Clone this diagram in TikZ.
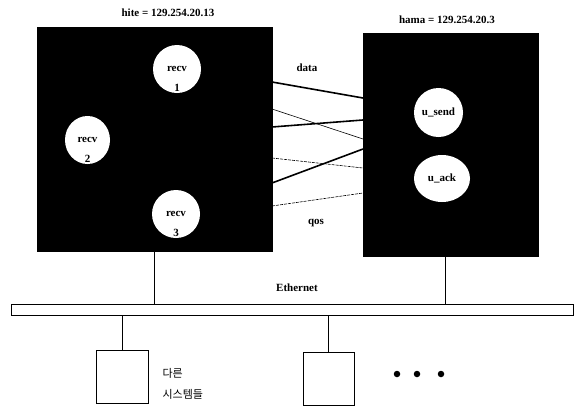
\documentclass[tikz,border=0pt]{standalone}
\usepackage{fontspec}
\setmainfont{Liberation Serif}
\newfontfamily\korfont{Noto Sans CJK KR}
\usetikzlibrary{shapes.geometric,positioning}

\tikzset{
	hostbox/.style={draw=black, fill=black, inner sep=0pt, outer sep=0pt},
	proc/.style={ellipse, fill=white, inner sep=0pt, outer sep=0pt},
	digit/.style={inner sep=0pt, text=black},
	thickline/.style={line width=1.6pt},
	thinline/.style={line width=0.6pt},
	dashline/.style={line width=0.6pt, dash pattern=on 3pt off 1pt},
	wire/.style={line width=0.9pt},
	sysbox/.style={draw, line width=0.9pt, inner sep=0pt, outer sep=0pt},
	dot/.style={circle, fill=black, inner sep=0pt, minimum size=6.5pt},
	kortext/.style={anchor=west, font=\korfont\fontsize{11}{13}\selectfont}
}

\begin{document}
\begin{tikzpicture}[x=1pt, y=-1pt, font=\bfseries\fontsize{11}{13}\selectfont]
		\useasboundingbox (0,0) rectangle (580,407);
		
		% Hosts
		\node[hostbox, minimum width=235pt, minimum height=224pt] (hite) at (154.5,139) {};
		\node[hostbox, minimum width=175pt, minimum height=223pt] (hama) at (450.5,144.5) {};
		\node (hitename) at (168,13) {hite = 129.254.20.13};
		\node (hamaname) at (447,20) {hama = 129.254.20.3};
		
		% Processes on hite
		\node[proc, minimum width=48pt, minimum height=48pt] (recv1) at (177,69) {recv};
		\node[digit] at ([yshift=5pt]recv1.south) {1};
		\node[proc, minimum width=45pt, minimum height=48pt] (recv2) at (87.5,140) {recv};
		\node[digit] at ([yshift=5pt]recv2.south) {2};
		\node[proc, minimum width=48pt, minimum height=48pt] (recv3) at (176,214) {recv};
		\node[digit] at ([yshift=5pt]recv3.south) {3};
		
		% Processes on hama
		\node[proc, minimum width=49pt, minimum height=49pt] (usend) at (438.5,112.5) {u\_send};
		\node[proc, minimum width=56pt, minimum height=47pt] (uack) at (442,178.5) {u\_ack};
		
		% Connections between the hosts
		\foreach \ya/\yb/\sty in {82/98/thickline, 109/139/thinline, 127/120/thickline,
				158/168/dashline, 183/149/thickline, 206/193/dashline}
			\draw[\sty] (hite.east |- 0,\ya) -- (hama.west |- 0,\yb);
		\node (data) at (307,68) {data};
		\node (qos) at (316,223) {qos};
		
		% Ethernet bus
		\node[draw, line width=0.9pt, minimum width=562pt, minimum height=11pt,
			inner sep=0pt, outer sep=0pt] (ether) at (292,310) {};
		\node (ethername) at (297,288) {Ethernet};
		\draw[wire] (hite.south) -- (hite.south |- ether.north);
		\draw[wire] (hama.south -| 445,0) -- (ether.north -| 445,0);
		
		% Other systems
		\node[sysbox, minimum width=52pt, minimum height=53pt] (sys1) at (122,376.5) {};
		\node[sysbox, minimum width=51pt, minimum height=53pt] (sys2) at (328.5,378.5) {};
		\draw[wire] (sys1.north) -- (sys1.north |- ether.south);
		\draw[wire] (sys2.north) -- (sys2.north |- ether.south);
		\node[kortext] (other1) at (159,373) {다른};
		\node[kortext] (other2) at (159,394) {시스템들};
		\foreach \x [count=\i] in {397,417,441}
			\node[dot] (dot\i) at (\x,374) {};
		
	\end{tikzpicture}
\end{document}
